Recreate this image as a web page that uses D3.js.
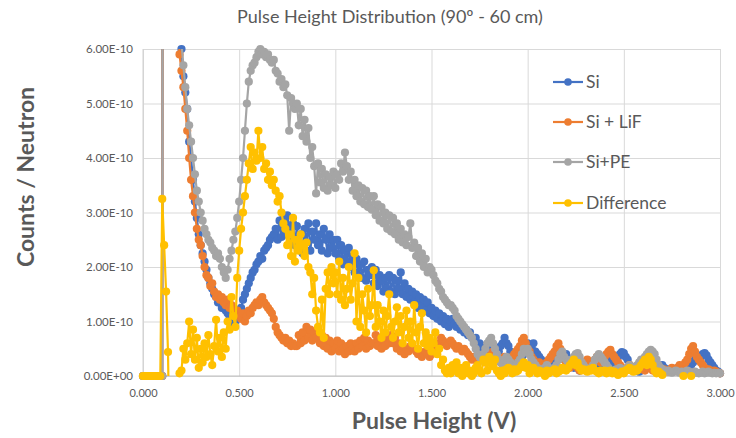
<!DOCTYPE html>
<html>
<head>
<meta charset="utf-8">
<script src="https://cdn.jsdelivr.net/npm/d3@7"></script>
<style>
  html, body { margin: 0; padding: 0; background: #fff; }
  svg { display: block; font-family: Lato, "Open Sans", sans-serif; }
</style>
</head>
<body>
<svg id="chart" width="736" height="438"></svg>
<script>
// Pulse height spectra, counts per neutron, in units of 1e-10, sampled every 0.01 V from 0 to 3 V.
const UNIT = 1e-10;
const voltage = d3.range(301).map(i => +(i * 0.01).toFixed(2));

const si = [
  0,0,0,0,0,0,0,0,0,0,
  0,40,30,22,17,13,10.5,9,7.8,6.8,
  6.0,5.5,5.2,4.9,4.3,4.0,3.6,3.2,2.9,2.6,
  2.4,2.25,2.1,1.95,1.8,1.7,1.6,1.5,1.45,1.35,
  1.35,1.25,1.3,1.2,1.15,1.1,1.05,0.95,1.0,1.05,
  1.1,1.25,1.4,1.5,1.6,1.7,1.8,1.9,1.95,2.05,
  2.1,2.2,2.15,2.3,2.35,2.4,2.5,2.55,2.6,2.7,
  2.5,2.85,2.55,2.9,2.6,2.95,2.7,2.5,2.8,2.4,
  2.75,2.35,2.6,2.25,2.7,2.45,2.8,2.3,2.65,2.5,
  2.8,2.4,2.6,2.3,2.7,2.5,2.25,2.6,2.35,2.5,
  2.25,2.5,2.15,2.4,2.05,2.3,2.1,2.35,2.0,2.2,
  1.9,2.15,1.85,2.05,1.8,2.1,1.75,1.95,1.85,2.0,
  1.7,1.95,1.65,1.85,1.75,1.55,1.8,1.6,1.85,1.55,
  1.8,1.5,1.75,1.6,1.9,1.5,1.7,1.45,1.6,1.4,
  1.55,1.35,1.5,1.25,1.45,1.3,1.4,1.2,1.35,1.15,
  1.25,1.1,1.2,1.05,1.15,1.0,1.1,0.95,1.05,0.9,
  1.0,1.05,0.95,0.9,1.0,0.85,0.9,0.8,0.85,0.75,
  0.8,0.7,0.65,0.7,0.55,0.6,0.5,0.55,0.45,0.5,
  0.4,0.45,0.35,0.5,0.4,0.45,0.55,0.6,0.7,0.6,
  0.55,0.45,0.4,0.3,0.35,0.3,0.25,0.35,0.4,0.5,
  0.6,0.55,0.5,0.6,0.45,0.4,0.35,0.3,0.25,0.2,
  0.25,0.2,0.3,0.25,0.3,0.35,0.4,0.45,0.4,0.35,
  0.4,0.3,0.25,0.2,0.15,0.2,0.15,0.1,0.15,0.2,
  0.15,0.2,0.25,0.2,0.15,0.2,0.25,0.2,0.15,0.2,
  0.2,0.25,0.3,0.25,0.2,0.25,0.3,0.35,0.4,0.44,
  0.42,0.35,0.3,0.2,0.15,0.1,0.12,0.1,0.08,0.1,
  0.12,0.15,0.2,0.25,0.3,0.25,0.2,0.15,0.1,0.15,
  0.2,0.15,0.1,0.12,0.1,0.08,0.1,0.12,0.15,0.12,
  0.15,0.12,0.1,0.12,0.15,0.2,0.25,0.3,0.35,0.3,
  0.35,0.4,0.42,0.38,0.3,0.25,0.2,0.15,0.1,0.08,
  0.05
];

const siLiF = [
  0,0,0,0,0,0,0,0,0,0,
  0,40,30,22,17,13,10,8.5,7.2,5.9,
  5.6,5.3,4.9,4.5,4.0,3.6,3.3,3.0,2.7,2.5,
  2.4,2.2,2.0,1.85,1.8,1.65,1.7,1.55,1.45,1.5,
  1.4,1.45,1.35,1.3,1.4,1.25,1.3,1.2,1.15,1.2,
  1.1,1.05,1.15,1.0,1.1,1.2,1.15,1.25,1.3,1.35,
  1.3,1.4,1.45,1.35,1.3,1.25,1.2,1.15,1.05,0.9,
  0.8,0.75,0.7,0.65,0.7,0.6,0.65,0.55,0.6,0.55,
  0.55,0.75,0.6,0.8,0.65,0.9,0.7,0.85,0.65,0.8,
  0.7,0.85,0.6,0.75,0.55,0.7,0.5,0.65,0.45,0.6,
  0.5,0.65,0.45,0.6,0.5,0.4,0.55,0.45,0.6,0.5,
  0.45,0.6,0.5,0.65,0.55,0.7,0.5,0.65,0.55,0.6,
  0.6,0.75,0.55,0.7,0.5,0.65,0.55,0.7,0.6,0.75,
  0.6,0.7,0.5,0.6,0.45,0.55,0.4,0.5,0.45,0.55,
  0.55,0.5,0.45,0.4,0.45,0.35,0.4,0.45,0.4,0.35,
  0.4,0.45,0.5,0.55,0.6,0.7,0.65,0.6,0.55,0.6,
  0.65,0.6,0.55,0.5,0.55,0.5,0.45,0.5,0.45,0.4,
  0.35,0.3,0.35,0.3,0.25,0.3,0.35,0.3,0.25,0.3,
  0.35,0.4,0.45,0.4,0.35,0.3,0.25,0.3,0.35,0.3,
  0.25,0.3,0.35,0.4,0.45,0.5,0.55,0.65,0.7,0.6,
  0.5,0.45,0.35,0.3,0.25,0.2,0.25,0.2,0.15,0.2,
  0.25,0.3,0.35,0.4,0.45,0.55,0.6,0.5,0.4,0.3,
  0.25,0.2,0.15,0.2,0.25,0.2,0.15,0.1,0.15,0.2,
  0.25,0.3,0.25,0.2,0.25,0.3,0.35,0.3,0.25,0.3,
  0.35,0.4,0.45,0.48,0.4,0.35,0.3,0.25,0.2,0.15,
  0.12,0.1,0.15,0.2,0.15,0.12,0.1,0.15,0.2,0.15,
  0.12,0.1,0.15,0.2,0.15,0.1,0.12,0.15,0.1,0.08,
  0.1,0.12,0.1,0.08,0.1,0.15,0.1,0.12,0.15,0.2,
  0.15,0.2,0.25,0.3,0.4,0.5,0.55,0.45,0.35,0.3,
  0.25,0.2,0.15,0.1,0.12,0.1,0.08,0.1,0.08,0.06,
  0.05
];

const siPE = [
  0,0,0,0,0,0,0,0,0,0,
  0,40,30,22,17,13,10.5,9,7.8,6.6,
  6.1,5.7,5.3,4.9,4.6,4.3,4.0,3.7,3.4,3.2,
  3.0,2.85,2.7,2.6,2.5,2.45,2.35,2.3,2.2,2.25,
  2.15,2.0,1.9,1.8,1.95,2.15,2.3,2.5,2.65,2.9,
  3.2,3.6,4.0,4.5,5.0,5.4,5.6,5.7,5.75,5.85,
  5.95,6.0,5.9,5.95,5.85,5.9,5.8,5.75,5.8,5.6,
  5.55,5.4,5.45,5.3,5.35,5.15,4.5,5.1,5.0,4.9,
  5.0,4.6,4.9,4.4,4.7,4.3,4.55,4.0,4.2,3.85,
  3.35,3.9,3.55,3.8,3.45,3.7,3.4,3.65,3.5,3.75,
  3.45,3.7,3.6,3.9,3.75,4.1,3.85,3.6,3.75,3.4,
  3.6,3.3,3.5,3.2,3.45,3.15,3.4,3.1,3.3,3.05,
  3.3,2.95,3.15,2.85,3.1,2.8,3.0,2.7,2.95,2.65,
  2.9,2.6,2.8,2.5,2.7,2.45,2.6,2.4,2.55,2.8,
  2.35,2.45,2.2,2.35,2.1,2.25,2.0,2.15,1.9,2.0,
  1.95,1.85,1.75,1.7,1.6,1.55,1.45,1.4,1.35,1.3,
  1.3,1.25,1.2,1.1,1.05,1.0,0.95,0.9,0.85,0.8,
  0.75,0.7,0.6,0.5,0.4,0.35,0.3,0.4,0.5,0.6,
  0.65,0.7,0.6,0.5,0.4,0.3,0.25,0.2,0.3,0.35,
  0.3,0.25,0.2,0.15,0.2,0.25,0.3,0.4,0.5,0.45,
  0.5,0.4,0.3,0.25,0.2,0.15,0.12,0.1,0.12,0.15,
  0.2,0.15,0.12,0.1,0.15,0.2,0.3,0.4,0.45,0.35,
  0.3,0.25,0.2,0.3,0.35,0.4,0.42,0.35,0.25,0.2,
  0.15,0.1,0.12,0.15,0.2,0.3,0.35,0.4,0.35,0.3,
  0.25,0.2,0.15,0.1,0.08,0.1,0.12,0.1,0.15,0.12,
  0.1,0.12,0.15,0.2,0.15,0.12,0.15,0.2,0.25,0.3,
  0.3,0.35,0.4,0.45,0.48,0.45,0.4,0.3,0.2,0.15,
  0.12,0.1,0.08,0.1,0.08,0.06,0.08,0.1,0.08,0.06,
  0.08,0.06,0.08,0.1,0.08,0.06,0.05,0.08,0.06,0.05,
  0.06,0.08,0.05,0.06,0.08,0.06,0.05,0.06,0.05,0.06,
  0.05
];

const difference = [
  0,0,0,0,0,0,0,0,0,0,
  3.25,2.4,1.55,0.44,-2,-3,-2,-1.5,-1,0.05,
  0.1,0.5,0.3,0.6,1.0,0.4,0.85,0.3,0.7,0.15,
  0.5,0.25,0.6,0.35,0.75,0.4,0.2,0.55,1.03,0.45,
  0.7,0.35,0.8,0.5,1.0,0.85,1.45,1.1,0.9,1.8,
  2.3,2.7,3.0,3.3,3.6,3.9,4.2,3.8,4.1,3.95,
  4.5,4.0,4.2,3.8,3.9,3.6,3.75,3.5,3.6,3.4,
  3.2,3.3,3.0,2.8,2.7,2.4,2.6,2.2,2.9,2.1,
  2.5,2.3,2.6,2.4,2.2,2.45,2.0,1.9,1.5,1.8,
  1.2,0.9,0.8,1.4,0.7,1.6,1.9,1.5,2.0,1.7,
  1.9,1.5,2.1,1.4,1.8,1.3,1.6,2.0,1.4,1.7,
  2.25,1.0,1.8,0.9,1.5,1.2,0.8,1.6,1.1,1.3,
  1.94,0.9,1.3,1.0,0.7,1.2,0.8,1.1,1.5,0.9,
  0.7,1.0,1.26,0.8,1.1,0.6,0.9,1.2,0.7,1.0,
  0.6,1.3,0.8,0.5,0.9,1.15,0.6,0.8,0.55,0.7,
  0.45,0.6,0.8,0.4,0.5,0.2,0.3,0.1,0.05,0.15,
  0.05,0.2,0.1,0.25,0.05,0.15,0.0,0.1,0.2,0.05,
  0.1,0.0,0.05,0.15,0.2,0.1,0.05,0.3,0.25,0.1,
  0.35,0.25,0.18,0.3,0.1,0.05,0.0,0.1,0.05,0.12,
  0.15,0.1,0.05,0.12,0.08,0.1,0.15,0.2,0.25,0.15,
  0.2,0.05,0.1,0.15,0.1,0.05,0.1,0.08,0.05,0.0,
  0.1,0.05,0.08,0.1,0.12,0.05,0.08,0.1,0.15,0.12,
  0.1,0.15,0.2,0.24,0.3,0.2,0.24,0.15,0.1,0.12,
  0.1,0.08,0.12,0.1,0.15,0.1,0.08,0.05,0.1,0.08,
  0.1,0.05,0.08,0.1,0.05,0.08,0.05,0.02,0.05,0.08,
  0.05,0.1,0.12,0.15,0.1,0.08,0.12,0.1,0.15,0.2,
  0.25,0.3,0.2,0.35,0.3,0.2,0.1,0.05,0.08,0.05,
  0.02,-0.2,-0.3,-0.1,-0.2,-0.1,-0.3,-0.2,-0.1,-0.3,
  -0.2,0.0,-0.2,-0.3,-0.1,0.0,-0.2,-0.3,-0.2,-0.1,
  -0.2,-0.3,-0.2,-0.1,-0.3,-0.2,-0.1,-0.2,-0.3,-0.2,
  -0.1
];

const seriesNames = ["Si", "Si + LiF", "Si+PE", "Difference"];
const seriesColors = ["#4472C4", "#ED7D31", "#A5A5A5", "#FFC000"];
const seriesValues = [si, siLiF, siPE, difference];

const xTickValues = [0, 0.5, 1, 1.5, 2, 2.5, 3];
const xTickLabels = ["0.000", "0.500", "1.000", "1.500", "2.000", "2.500", "3.000"];
const yTickValues = [0, 1, 2, 3, 4, 5, 6].map(v => v * UNIT);
const yTickLabels = ["0.00E+00", "1.00E-10", "2.00E-10", "3.00E-10", "4.00E-10", "5.00E-10", "6.00E-10"];

const svg = d3.select("#chart");
const plotLeft = 143, plotRight = 720, plotTop = 49, plotBottom = 376;
const textColor = "#595959";

const x = d3.scaleLinear().domain([0, 3]).range([plotLeft, plotRight]);
const y = d3.scaleLinear().domain([0, 6 * UNIT]).range([plotBottom, plotTop]);

// Gridlines
svg.append("g")
  .attr("transform", `translate(0,${plotBottom})`)
  .call(d3.axisBottom(x).tickValues(xTickValues).tickSize(-(plotBottom - plotTop)).tickFormat(""))
  .call(g => g.select(".domain").remove())
  .call(g => g.selectAll(".tick line").attr("stroke", "#d9d9d9").attr("stroke-width", 1));
svg.append("g")
  .attr("transform", `translate(${plotLeft},0)`)
  .call(d3.axisLeft(y).tickValues(yTickValues).tickSize(-(plotRight - plotLeft)).tickFormat(""))
  .call(g => g.select(".domain").remove())
  .call(g => g.selectAll(".tick line").attr("stroke", "#d9d9d9").attr("stroke-width", 1));

// Axis lines
svg.append("line").attr("x1", plotLeft).attr("x2", plotLeft).attr("y1", plotTop).attr("y2", plotBottom)
  .attr("stroke", "#d0d0d0");
svg.append("line").attr("x1", plotLeft).attr("x2", plotRight).attr("y1", plotBottom).attr("y2", plotBottom)
  .attr("stroke", "#bfbfbf");

// Tick labels
svg.append("g")
  .attr("transform", `translate(0,${plotBottom})`)
  .call(d3.axisBottom(x).tickValues(xTickValues).tickSize(0).tickPadding(13)
    .tickFormat((d, i) => xTickLabels[i]))
  .call(g => g.select(".domain").remove())
  .call(g => g.selectAll("text").attr("fill", textColor).attr("font-size", 11)
    .attr("font-family", "Lato, sans-serif"));
svg.append("g")
  .attr("transform", `translate(${plotLeft},0)`)
  .call(d3.axisLeft(y).tickValues(yTickValues).tickSize(0).tickPadding(10)
    .tickFormat((d, i) => yTickLabels[i]))
  .call(g => g.select(".domain").remove())
  .call(g => g.selectAll("text").attr("fill", textColor).attr("font-size", 11.5)
    .attr("font-family", "Lato, sans-serif"));

// Plot area clip for lines
svg.append("defs").append("clipPath").attr("id", "plotClip")
  .append("rect").attr("x", plotLeft).attr("y", plotTop)
  .attr("width", plotRight - plotLeft).attr("height", plotBottom - plotTop);

const line = d3.line().x(d => x(d[0])).y(d => y(d[1]));
const plot = svg.append("g");

seriesValues.forEach((vals, s) => {
  const pts = voltage.map((v, i) => [v, vals[i] * UNIT]);
  const g = plot.append("g");
  g.append("path")
    .attr("d", line(pts))
    .attr("clip-path", "url(#plotClip)")
    .attr("fill", "none")
    .attr("stroke", seriesColors[s])
    .attr("stroke-width", 2.2)
    .attr("stroke-linejoin", "round");
  g.selectAll("circle")
    .data(pts.filter(p => p[1] >= 0 && p[1] <= 6.05 * UNIT))
    .join("circle")
    .attr("cx", d => x(d[0]))
    .attr("cy", d => y(d[1]))
    .attr("r", 4.1)
    .attr("fill", seriesColors[s]);
});

// Legend
const legend = svg.append("g");
const legendY = [82, 122, 162, 203];
seriesNames.forEach((name, i) => {
  const row = legend.append("g").attr("transform", `translate(553,${legendY[i]})`);
  row.append("line").attr("x1", 0).attr("x2", 30).attr("stroke", seriesColors[i]).attr("stroke-width", 2.2);
  row.append("circle").attr("cx", 15).attr("r", 3.8).attr("fill", seriesColors[i]);
  row.append("text").attr("x", 33).attr("dy", "0.35em").attr("fill", textColor)
    .attr("font-size", 17.5).text(name);
});

// Titles
svg.append("text").attr("x", 390).attr("y", 23).attr("text-anchor", "middle")
  .attr("fill", textColor).attr("font-size", 18).text("Pulse Height Distribution (90º - 60 cm)");
svg.append("text").attr("x", 434).attr("y", 429).attr("text-anchor", "middle")
  .attr("fill", textColor).attr("font-size", 23).attr("font-weight", 700).text("Pulse Height (V)");
svg.append("text").attr("transform", "translate(34,177) rotate(-90)").attr("text-anchor", "middle")
  .attr("fill", textColor).attr("font-size", 23).attr("font-weight", 700).text("Counts / Neutron");
</script>
</body>
</html>
